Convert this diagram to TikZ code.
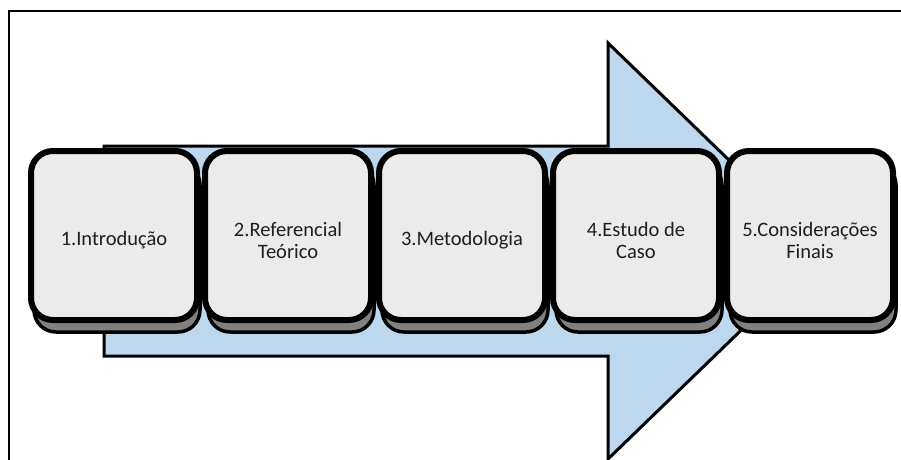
\documentclass[tikz,border=0pt]{standalone}
\usepackage{fontspec}
\setmainfont{Carlito}
\usetikzlibrary{shadows}
\definecolor{arrowblue}{RGB}{189,215,238}
\definecolor{boxgray}{RGB}{235,235,235}
\definecolor{shadegray}{RGB}{128,128,128}
\definecolor{textgray}{RGB}{30,30,30}
\tikzset{
  frameline/.style={line width=2pt, draw=black},
  bigarrow/.style={fill=arrowblue, draw=black, line width=3pt, line join=miter},
  stepbox/.style={
    draw=black, line width=6pt, fill=boxgray, rounded corners=22pt,
    minimum width=166pt, minimum height=169pt,
    copy shadow={shadow xshift=3pt, shadow yshift=-12pt,
                 fill=shadegray, draw=black, line width=3.5pt}
  },
  steptext/.style={
    align=center, text=textgray, inner sep=0pt,
    font=\fontsize{20.5pt}{22pt}\selectfont
  }
}
\begin{document}
\begin{tikzpicture}[x=1pt, y=-1pt]
  \useasboundingbox (0,0) rectangle (901,459);
  % outer frame (open towards right and bottom)
  \coordinate (fbl) at (9,470);
  \coordinate (ftl) at (9,11);
  \coordinate (ftr) at (910,11);
  \draw[frameline] (fbl) -- (ftl) -- (ftr);
  % large process arrow behind the steps
  \coordinate (a1) at (104,146);
  \coordinate (a2) at (608,146);
  \coordinate (a3) at (608,43);
  \coordinate (tip) at (823,251);
  \coordinate (a5) at (608,459);
  \coordinate (a6) at (608,356);
  \coordinate (a7) at (104,356);
  \draw[bigarrow] (a1) -- (a2) -- (a3) -- (tip) -- (a5) -- (a6) -- (a7) -- cycle;
  % the five steps
  \node[stepbox] (s1) at (114,235.5) {};
  \node[stepbox] (s2) at (288,235.5) {};
  \node[stepbox] (s3) at (462,235.5) {};
  \node[stepbox] (s4) at (636,235.5) {};
  \node[stepbox] (s5) at (810,235.5) {};
  % step labels, set a little below the box centres
  \node[steptext] (t1) at ([yshift=-4.5pt]s1.center) {1.Introdução};
  \node[steptext] (t2) at ([yshift=-4.5pt]s2.center) {2.Referencial\\Teórico};
  \node[steptext] (t3) at ([yshift=-4.5pt]s3.center) {3.Metodologia};
  \node[steptext] (t4) at ([yshift=-4.5pt]s4.center) {4.Estudo de\\Caso};
  \node[steptext] (t5) at ([yshift=-4.5pt]s5.center) {5.Considerações\\Finais};
\end{tikzpicture}
\end{document}
